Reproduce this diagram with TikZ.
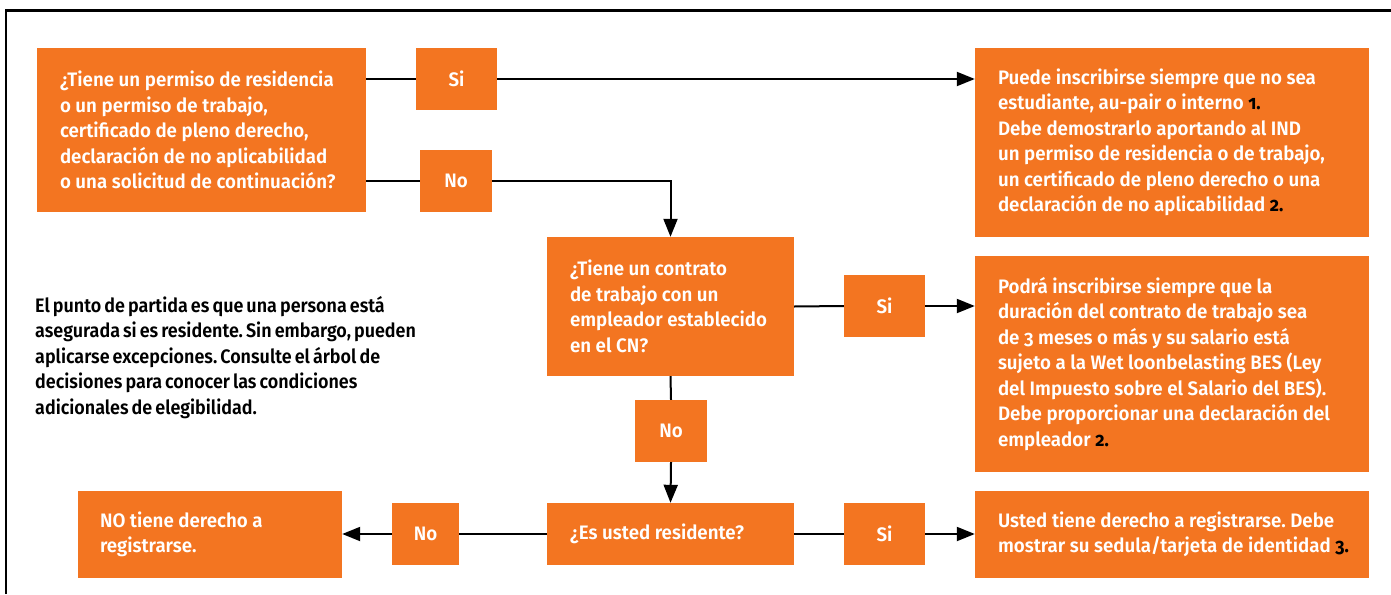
\documentclass[tikz,border=0pt]{standalone}
\usepackage{fontspec}
\setmainfont{Fira Sans SemiBold}[Numbers=OldStyle, FakeStretch=0.92, WordSpace=0.7]
\newfontfamily\boxfont{Fira Sans SemiBold}[Numbers=OldStyle, FakeStretch=0.96, WordSpace=1.0]
\newfontfamily\fnfont{Fira Sans}[Numbers=OldStyle, FakeStretch=0.92]
\usetikzlibrary{arrows.meta}
\definecolor{ndorange}{RGB}{243,117,33}
\newcommand\fnum[1]{{\fnfont\bfseries\color{black}#1}}
\newcommand\Lx[1]{\mbox{\spaceskip=0pt\xspaceskip=0pt\relax #1}}
\frenchspacing
\tikzset{
  box/.style={fill=ndorange, text=white, inner sep=0pt, align=left,
    font=\boxfont\fontsize{19.5pt}{25.5pt}\selectfont},
  lab/.style={fill=ndorange, text=white, inner sep=0pt, align=center,
    font=\boxfont\fontsize{19.5pt}{25.5pt}\selectfont},
  plain/.style={inner sep=0pt, align=left, text=black,
    font=\fontsize{19.5pt}{25.5pt}\selectfont},
  conn/.style={line width=2pt},
  arr/.style={line width=2pt, -{Triangle[length=18pt,width=14pt]}},
}
\begin{document}
\begin{tikzpicture}[x=1pt,y=-1pt]
\useasboundingbox (0,0) rectangle (1391,594);
% frame
\draw[line width=2.5pt] (6,594) -- (6,10.5) -- (1391,10.5);

% boxes
\node[box, minimum width=329pt, minimum height=164pt, text width=283pt] (q1) at (201.5,130)
 {\Lx{¿Tiene un permiso de residencia}\\\Lx{o un permiso de trabajo,}\\\Lx{certificado de pleno derecho,}\\\Lx{declaración de no aplicabilidad}\\\Lx{o una solicitud de continuación?}};
\node[lab, minimum width=81pt, minimum height=62pt] (si1) at (456.5,79) {Si};
\node[lab, minimum width=72pt, minimum height=62pt] (no1) at (456,181) {No};
\node[box, minimum width=394pt, minimum height=189pt, text width=348pt] (r1) at (1172,142.5)
 {\Lx{Puede inscribirse siempre que no sea}\\\Lx{estudiante, au-pair o interno \fnum{1.}}\\\Lx{Debe demostrarlo aportando al IND}\\\Lx{un permiso de residencia o de trabajo,}\\\Lx{un certificado de pleno derecho o una}\\\Lx{declaración de no aplicabilidad \fnum{2.}}};

\node[box, minimum width=247pt, minimum height=139pt, text width=201pt] (q2) at (670.5,306.5)
 {\Lx{¿Tiene un contrato}\\\Lx{de trabajo con un}\\\Lx{empleador establecido}\\\Lx{en el CN?}};
\node[lab, minimum width=81pt, minimum height=62pt] (si2) at (884.5,306) {Si};
\node[box, minimum width=394pt, minimum height=216pt, text width=348pt] (r2) at (1172,364)
 {\Lx{Podrá inscribirse siempre que la}\\\Lx{duración del contrato de trabajo sea}\\\Lx{de 3 meses o más y su salario está}\\\Lx{sujeto a la Wet loonbelasting BES (Ley}\\\Lx{del Impuesto sobre el Salario del BES).}\\\Lx{Debe proporcionar una declaración del}\\\Lx{empleador \fnum{2.}}};
\node[lab, minimum width=72pt, minimum height=62pt] (no2) at (671,431) {No};

\node[box, minimum width=247pt, minimum height=62pt, text width=201pt] (q3) at (670.5,534) {\Lx{¿Es usted residente?}};
\node[lab, minimum width=81pt, minimum height=62pt] (si3) at (884.5,534) {Si};
\node[box, minimum width=394pt, minimum height=87pt, text width=348pt] (r3) at (1172,534.5)
 {\Lx{Usted tiene derecho a registrarse. Debe}\\\Lx{mostrar su sedula/tarjeta de identidad \fnum{3.}}};
\node[lab, minimum width=67pt, minimum height=62pt] (no3) at (425.5,534) {No};
\node[box, minimum width=264pt, minimum height=87pt, text width=220pt] (nl) at (210,534.5)
 {\Lx{NO tiene derecho a}\\\Lx{registrarse.}};

\node[plain, anchor=north west] (intro) at (35,296)
 {El punto de partida es que una persona está\\asegurada si es residente. Sin embargo, pueden\\aplicarse excepciones. Consulte el árbol de\\decisiones para conocer las condiciones\\adicionales de elegibilidad.};

% connectors
\draw[conn] (q1.east |- si1) -- (si1.west);
\draw[arr] (si1.east) -- (si1 -| r1.west);
\draw[conn] (q1.east |- no1) -- (no1.west);
\draw[arr] (no1.east) -| (q2.north);
\draw[conn] (q2.east) -- (si2.west);
\draw[arr] (si2.east) -- (si2 -| r2.west);
\draw[conn] (q2.south) -- (no2.north);
\draw[arr] (no2.south) -- (q3.north);
\draw[conn] (q3.east) -- (si3.west);
\draw[arr] (si3.east) -- (si3 -| r3.west);
\draw[conn] (q3.west) -- (no3.east);
\draw[arr] (no3.west) -- (no3 -| nl.east);
\end{tikzpicture}
\end{document}
